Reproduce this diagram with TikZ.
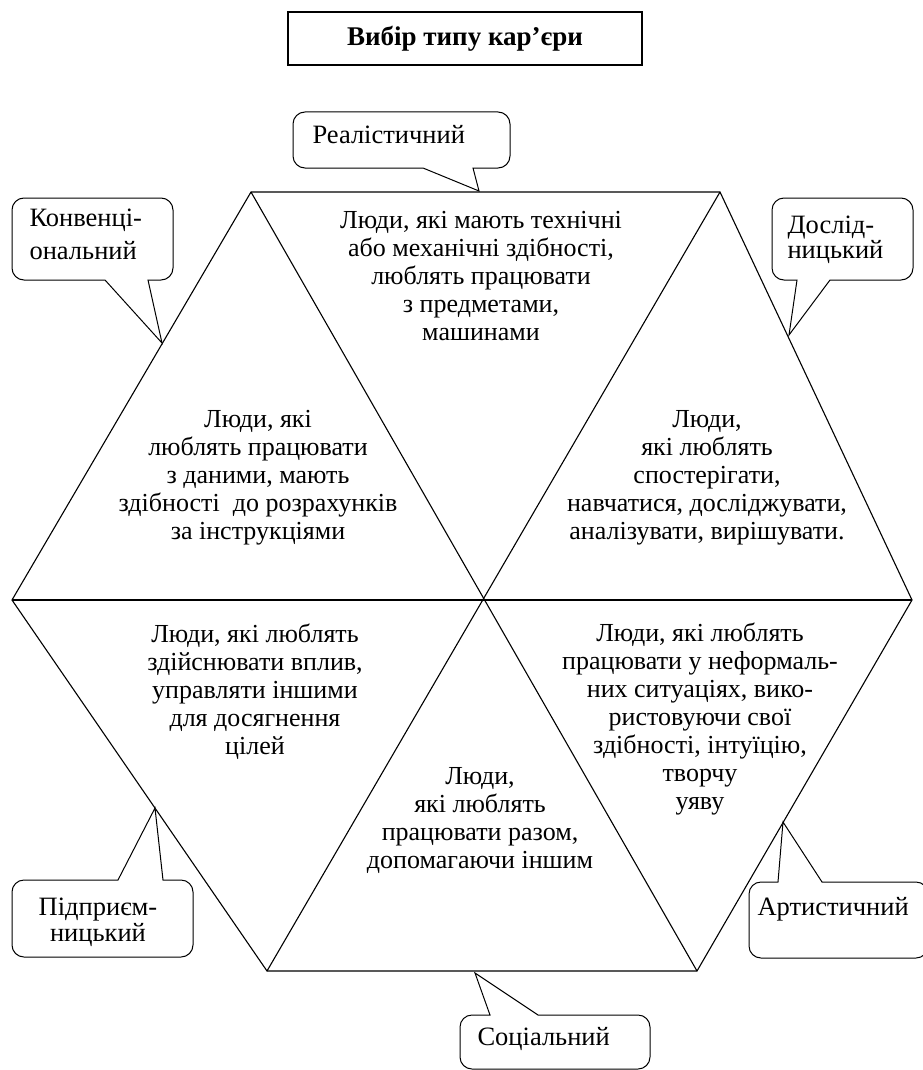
\documentclass[tikz,border=0pt]{standalone}
\usepackage{fontspec}
\setmainfont{Liberation Serif}
\newcommand\calloutdown[8]{%
  \draw[call, rounded corners=12pt] (#5,#4) -- (#1,#4) -- (#1,#2) -- (#3,#2) -- (#3,#4) [sharp corners] -- (#6,#4) -- (#7,#8) -- cycle;}
\newcommand\calloutup[8]{%
  \draw[call, rounded corners=12pt] (#6,#2) -- (#3,#2) -- (#3,#4) -- (#1,#4) -- (#1,#2) [sharp corners] -- (#5,#2) -- (#7,#8) -- cycle;}
\begin{document}
\begin{tikzpicture}[x=1pt,y=-1pt, line width=1.1pt,
  body/.style={align=center, font=\fontsize{26}{28}\selectfont, inner sep=0pt},
  lab/.style={align=left, font=\fontsize{26.5}{33}\selectfont, inner sep=0pt},
  call/.style={draw, line width=1pt, fill=white}]
\useasboundingbox (0,0) rectangle (922,1070);
% title
\node[draw, line width=1.2pt, minimum width=354pt, minimum height=53pt, font=\fontsize{27}{30}\selectfont\bfseries] (title) at (465,38.5) {Вибір типу кар’єри};
% hexagon
\coordinate (TL) at (251,192);
\coordinate (TR) at (720,192);
\coordinate (R) at (912,600);
\coordinate (BR) at (697,971);
\coordinate (BL) at (267,971);
\coordinate (L) at (12,600);
\draw (TL) -- (TR) -- (R) -- (BR) -- (BL) -- (L) -- cycle;
\draw (L) -- (R);
\draw (TL) -- (BR);
\draw (TR) -- (BL);
% texts
\node[body] (t1) at (481,276) {Люди, які мають технічні\\або механічні здібності,\\люблять працювати\\з предметами,\\машинами};
\node[body] (t2) at (258,478) {Люди, які\\люблять працювати\\з даними, мають\\здібності~ до розрахунків\\за інструкціями};
\node[body] (t3) at (707,478) {Люди,\\які люблять\\спостерігати,\\навчатися, досліджувати,\\аналізувати, вирішувати.};
\node[body] (t4) at (255,692) {Люди, які люблять\\здійснювати вплив,\\управляти іншими\\для досягнення\\цілей};
\node[body] (t5) at (700,719) {Люди, які люблять\\працювати у неформаль-\\них ситуаціях, вико-\\ристовуючи свої\\здібності, інтуїцію,\\творчу\\уяву};
\node[body] (t6) at (480,820) {Люди,\\які люблять\\працювати разом,\\допомагаючи іншим};
% callouts
\calloutdown{293}{112}{510}{168}{423}{473}{479}{191}
\node[lab, anchor=base west] (c1) at (312,143) {Реалістичний};
\calloutdown{12}{198}{173}{280}{105}{148}{162}{343}
\node[lab, anchor=west] (c2) at (29,234) {Конвенці-\\ональний};
\calloutdown{772}{198}{913}{280}{797}{830}{789}{335}
\node[lab, anchor=west, font=\fontsize{26.5}{25}\selectfont] (c3) at (787,240) {Дослід-\\ницький};
\calloutup{12}{880}{193}{957}{118}{163}{155}{808}
\node[lab, align=center, font=\fontsize{26.5}{26}\selectfont] (c4) at (98,922) {Підприєм-\\ницький};
\calloutup{749}{882}{928}{958}{778}{822}{783}{822}
\node[lab, anchor=base west] (c5) at (757,915) {Артистичний};
\calloutup{460}{1015}{650}{1069}{490}{538}{475}{973}
\node[lab, anchor=base west] (c6) at (477,1045) {Соціальний};
\end{tikzpicture}
\end{document}
